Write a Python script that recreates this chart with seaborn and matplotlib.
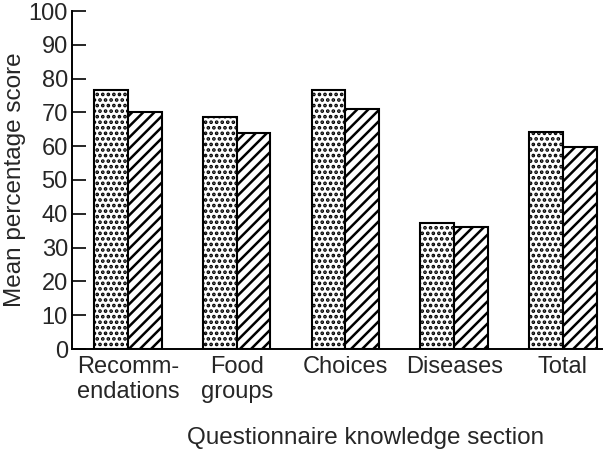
import matplotlib
matplotlib.use("Agg")
import matplotlib.pyplot as plt
import seaborn as sns
import pandas as pd

categories = ["Recomm-\nendations", "Food\ngroups", "Choices", "Diseases", "Total"]
group_a = [76.5, 68.5, 76.5, 37.2, 64.2]
group_b = [70.0, 64.0, 71.0, 36.0, 59.8]
groups = ["A", "B"]

df = pd.DataFrame({
    "section": categories * 2,
    "score": group_a + group_b,
    "group": [groups[0]] * len(categories) + [groups[1]] * len(categories),
})

sns.set_style("white")
plt.rcParams["font.family"] = ["Liberation Sans", "DejaVu Sans"]
plt.rcParams["hatch.linewidth"] = 1.8

fig = plt.figure(figsize=(6.03, 4.57), dpi=100)
ax = fig.add_axes([72/603, 1-349/457, 530/603, 338/457])

sns.barplot(data=df, x="section", y="score", hue="group", ax=ax,
            palette=["white", "white"], edgecolor="black", linewidth=1.5,
            width=0.62, legend=False, saturation=1)

hatches = ["...", "///"]
for i, cont in enumerate(ax.containers):
    for bar in cont:
        bar.set_hatch(hatches[i])
        bar.set_edgecolor("black")

ax.set_ylim(0, 100)
ax.set_xlim(-0.515, 4.36)
ax.set_yticks(range(0, 101, 10))
ax.tick_params(axis="y", direction="in", length=10, width=1.4, labelsize=17, pad=3, left=True)
ax.tick_params(axis="x", length=0, labelsize=17, pad=5)
for s in ["top", "right"]:
    ax.spines[s].set_visible(False)
for s in ["left", "bottom"]:
    ax.spines[s].set_color("black")
    ax.spines[s].set_linewidth(1.4)

ax.set_ylabel("Mean percentage score", fontsize=17.5)
ax.set_xlabel("Questionnaire knowledge section", fontsize=17.5)
ax.yaxis.label.set_va("center")
ax.xaxis.label.set_va("center")
ax.yaxis.set_label_coords(-0.108, 0.5)
ax.xaxis.set_label_coords(0.553, -0.262)

fig.savefig("out.png", dpi=100)
